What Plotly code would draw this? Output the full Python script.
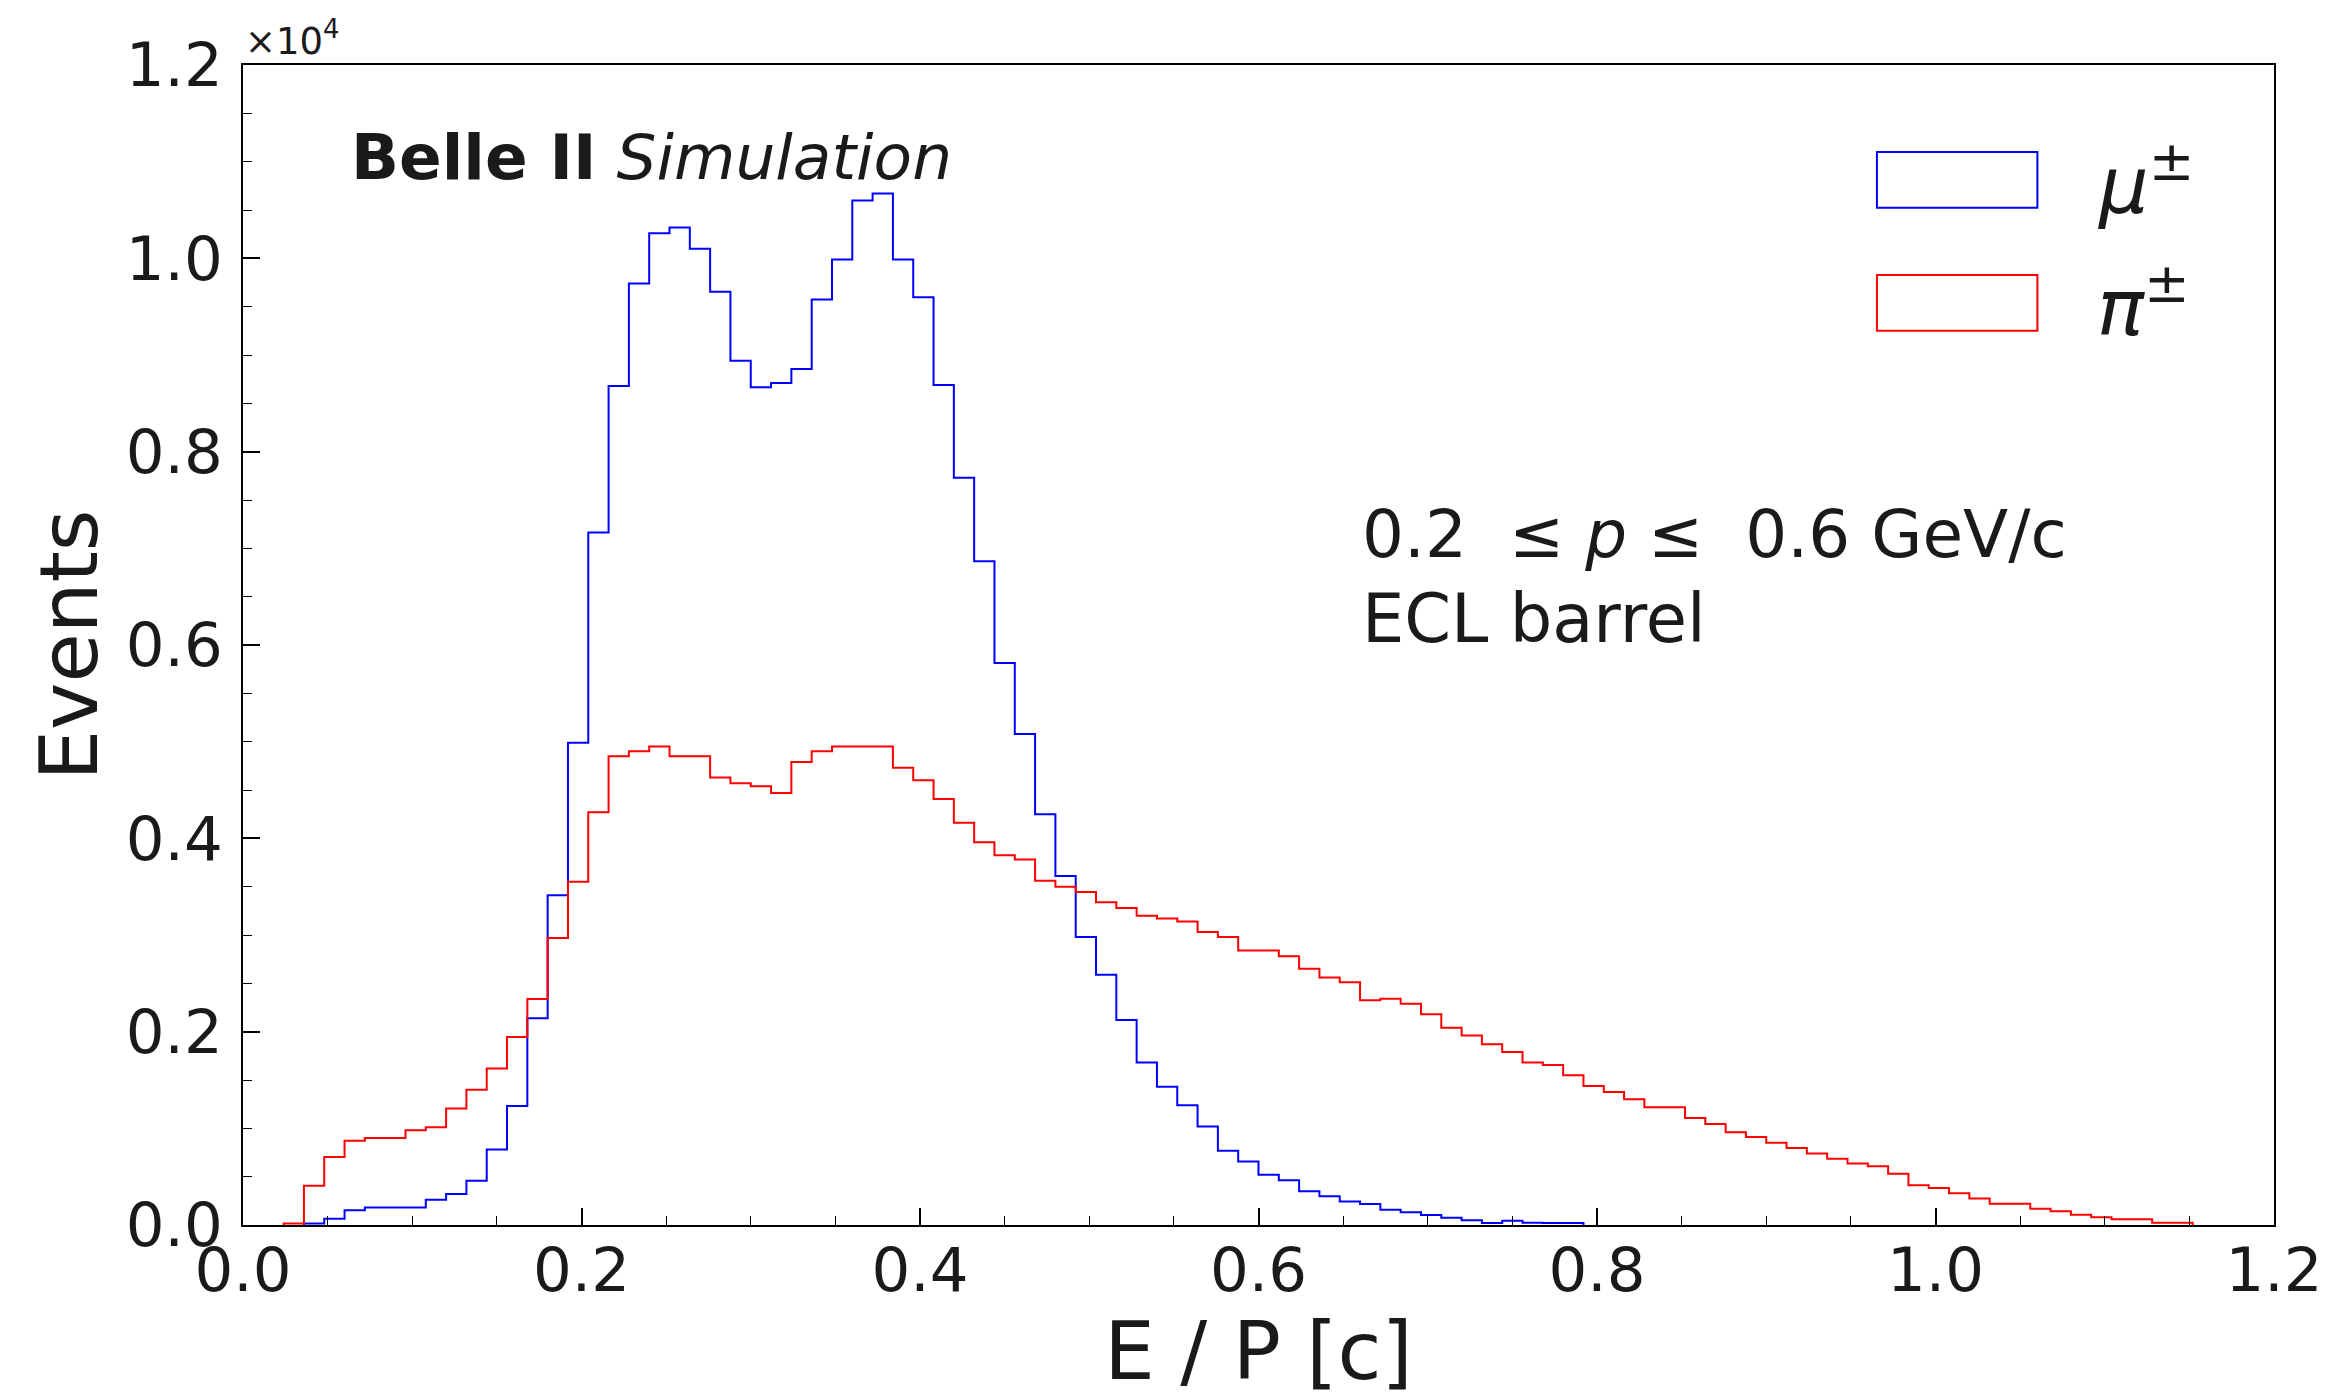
import plotly.graph_objects as go

# ---- data (E/P histogram, bin width 0.012, counts per bin) ----
bin_width = 0.012
mu_first_bin = 3
mu_counts = [15, 65, 152, 180, 180, 180, 260, 320, 457, 780,
             1230, 2140, 3410, 4990, 7165, 8680, 9740, 10260, 10320, 10100,
             9655, 8940, 8667, 8710, 8856, 9575, 9988, 10598, 10670, 9988,
             9597, 8690, 7730, 6867, 5815, 5080, 4250, 3610, 2980, 2590,
             2120, 1680, 1430, 1240, 1020, 768, 657, 519, 463, 349,
             297, 242, 218, 158, 131, 103, 75, 48, 20, 44,
             24, 20, 20]
pi_first_bin = 2
pi_counts = [15, 407, 704, 871, 900, 900, 980, 1010, 1205, 1400,
             1620, 1945, 2337, 2970, 3550, 4270, 4850, 4900, 4950, 4850,
             4850, 4630, 4570, 4540, 4470, 4790, 4900, 4950, 4950, 4950,
             4730, 4600, 4406, 4160, 3960, 3826, 3780, 3560, 3500, 3446,
             3340, 3280, 3200, 3170, 3140, 3030, 2980, 2840, 2840, 2780,
             2650, 2560, 2510, 2325, 2340, 2290, 2180, 2040, 1960, 1870,
             1790, 1680, 1655, 1550, 1438, 1375, 1300, 1218, 1218, 1108,
             1045, 960, 910, 850, 797, 740, 686, 635, 607, 531,
             410, 383, 328, 273, 220, 220, 169, 141, 107, 80,
             59, 59, 24, 24]
series_names = ["<i>μ</i><sup>±</sup>", "<i>π</i><sup>±</sup>"]
series_colors = ["#0000ff", "#ff0000"]

x_tick_vals = [0.0, 0.2, 0.4, 0.6, 0.8, 1.0, 1.2]
y_tick_vals = [0, 2000, 4000, 6000, 8000, 10000, 12000]
y_tick_text = ["0.0", "0.2", "0.4", "0.6", "0.8", "1.0", "1.2"]

TXT = "#1a1a1a"
FONT = "DejaVu Sans"


def step_xy(first, counts):
    edges = [(first + i) * bin_width for i in range(len(counts) + 1)]
    x = [edges[0]] + edges[:-1] + [edges[-1]]
    y = [0] + list(counts) + [0]
    return x, y


fig = go.Figure()
for first, counts, color in [(mu_first_bin, mu_counts, series_colors[0]),
                             (pi_first_bin, pi_counts, series_colors[1])]:
    x, y = step_xy(first, counts)
    fig.add_trace(go.Scatter(x=x, y=y, mode="lines", line_shape="hv",
                             line=dict(color=color, width=2),
                             showlegend=False, hoverinfo="skip"))

axis_common = dict(
    showline=True, linecolor="black", linewidth=2, mirror=True,
    ticks="inside", ticklen=17, tickwidth=1.5, tickcolor="black",
    showgrid=False, zeroline=False, automargin=False,
    tickfont=dict(family=FONT, size=61, color=TXT),
)

fig.update_xaxes(range=[0, 1.2], tickvals=x_tick_vals, tickformat=".1f",
                 minor=dict(ticks="inside", ticklen=9, tickwidth=1.2,
                            tickcolor="black", dtick=0.05, tick0=0),
                 title=dict(text="E / P [c]", font=dict(family=FONT, size=80, color=TXT),
                            standoff=36),
                 ticklabelstandoff=-9,
                 **axis_common)
fig.update_yaxes(range=[0, 12000], tickvals=y_tick_vals, ticktext=y_tick_text,
                 minor=dict(ticks="inside", ticklen=9, tickwidth=1.2,
                            tickcolor="black", dtick=500, tick0=0),
                 title=dict(text="Events", font=dict(family=FONT, size=80, color=TXT),
                            standoff=2),
                 ticklabelstandoff=6,
                 **axis_common)

# legend boxes drawn as outlined rectangles
legend_rows = [(0.925, 0.877, 0.901), (0.819, 0.771, 0.796)]
for (y1, y0, yc), name, color in zip(legend_rows, series_names, series_colors):
    fig.add_shape(type="rect", xref="paper", yref="paper",
                  x0=0.8045, x1=0.8835, y0=y0, y1=y1,
                  line=dict(color=color, width=2), fillcolor="rgba(0,0,0,0)")
    fig.add_annotation(xref="paper", yref="paper", x=0.912, y=yc,
                       xanchor="left", yanchor="middle", showarrow=False,
                       text=name, font=dict(family=FONT, size=78, color=TXT))

fig.add_annotation(xref="paper", yref="paper", x=0.052, y=0.92,
                   xanchor="left", yanchor="middle", showarrow=False,
                   text="<b>Belle II</b> <i>Simulation</i>",
                   font=dict(family=FONT, size=63, color=TXT))
fig.add_annotation(xref="paper", yref="paper", x=0.55, y=0.595,
                   xanchor="left", yanchor="middle", showarrow=False,
                   text="0.2  ≤ <i>p</i> ≤  0.6 GeV/c",
                   font=dict(family=FONT, size=66, color=TXT))
fig.add_annotation(xref="paper", yref="paper", x=0.55, y=0.522,
                   xanchor="left", yanchor="middle", showarrow=False,
                   text="ECL barrel",
                   font=dict(family=FONT, size=67, color=TXT))
fig.add_annotation(xref="paper", yref="paper", x=0.0, y=1.0,
                   xanchor="left", yanchor="bottom", showarrow=False,
                   text="×10<sup>4</sup>",
                   font=dict(family=FONT, size=37, color=TXT))

fig.update_layout(width=2331, height=1398,
                  margin=dict(l=243, r=57, t=65, b=173),
                  paper_bgcolor="white", plot_bgcolor="white")

fig.write_html("out.html")
